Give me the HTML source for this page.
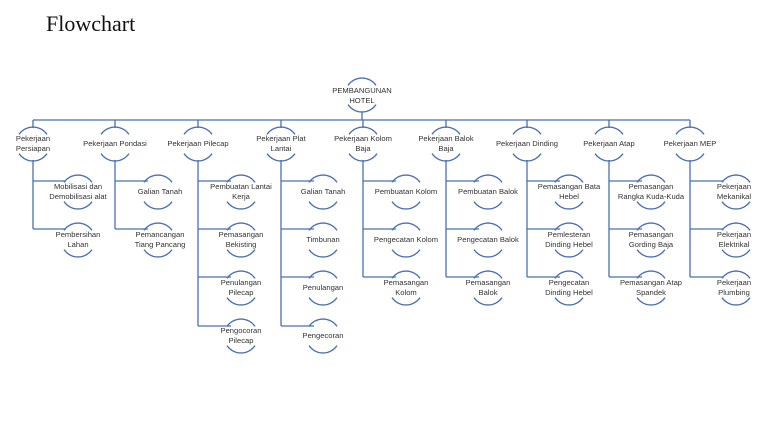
<!DOCTYPE html>
<html><head><meta charset="utf-8"><style>
html,body{margin:0;padding:0;background:#fff;}
svg{display:block;}
text{font-family:"Liberation Sans",sans-serif;font-size:7.6px;fill:#333;text-anchor:middle;}
.t{font-family:"Liberation Serif",serif;font-size:22px;fill:#111;text-anchor:start;}
.l{stroke:#4a6fb5;stroke-width:1.3;fill:none;}
</style></head><body>
<svg width="768" height="433" viewBox="0 0 768 433" xmlns="http://www.w3.org/2000/svg">
<defs>
<g id="a"><path class="l" d="M-14,-9.6 A17,17 0 0 1 14,-9.6"/><path class="l" d="M-14,9.6 A17,17 0 0 0 14,9.6"/></g>
</defs>
<text class="t" x="46" y="31">Flowchart</text>

<!-- connectors -->
<path class="l" d="M362,112 V120 M33,120 H690 M33,120 V128 M115,120 V128 M198,120 V128 M281,120 V128 M363,120 V128 M446,120 V128 M527,120 V128 M609,120 V128 M690,120 V128"/>
<path class="l" d="M33,160 V229 M33,181 H66 M33,229 H66"/>
<path class="l" d="M115,160 V229 M115,181 H148 M115,229 H148"/>
<path class="l" d="M198,160 V326 M198,181 H231 M198,229 H231 M198,277 H231 M198,326 H231"/>
<path class="l" d="M281,160 V326 M281,181 H314 M281,229 H314 M281,277 H314 M281,326 H314"/>
<path class="l" d="M363,160 V277 M363,181 H396 M363,229 H396 M363,277 H396"/>
<path class="l" d="M446,160 V277 M446,181 H479 M446,229 H479 M446,277 H479"/>
<path class="l" d="M527,160 V277 M527,181 H560 M527,229 H560 M527,277 H560"/>
<path class="l" d="M609,160 V277 M609,181 H642 M609,229 H642 M609,277 H642"/>
<path class="l" d="M690,160 V277 M690,181 H723 M690,229 H723 M690,277 H723"/>

<!-- root -->
<use href="#a" x="362" y="95"/>
<text x="362" y="93">PEMBANGUNAN</text><text x="362" y="103">HOTEL</text>

<!-- level 1 -->
<use href="#a" x="33" y="144"/><text x="33" y="141">Pekerjaan</text><text x="33" y="151">Persiapan</text>
<use href="#a" x="115" y="144"/><text x="115" y="146">Pekerjaan Pondasi</text>
<use href="#a" x="198" y="144"/><text x="198" y="146">Pekerjaan Pilecap</text>
<use href="#a" x="281" y="144"/><text x="281" y="141">Pekerjaan Plat</text><text x="281" y="151">Lantai</text>
<use href="#a" x="363" y="144"/><text x="363" y="141">Pekerjaan Kolom</text><text x="363" y="151">Baja</text>
<use href="#a" x="446" y="144"/><text x="446" y="141">Pekerjaan Balok</text><text x="446" y="151">Baja</text>
<use href="#a" x="527" y="144"/><text x="527" y="146">Pekerjaan Dinding</text>
<use href="#a" x="609" y="144"/><text x="609" y="146">Pekerjaan Atap</text>
<use href="#a" x="690" y="144"/><text x="690" y="146">Pekerjaan MEP</text>

<!-- col 0 -->
<use href="#a" x="78" y="192"/><text x="78" y="189">Mobilisasi dan</text><text x="78" y="199">Demobilisasi alat</text>
<use href="#a" x="78" y="240"/><text x="78" y="237">Pembersihan</text><text x="78" y="247">Lahan</text>
<!-- col 1 -->
<use href="#a" x="158" y="192"/><text x="160" y="194">Galian Tanah</text>
<use href="#a" x="158" y="240"/><text x="160" y="237">Pemancangan</text><text x="160" y="247">Tiang Pancang</text>
<!-- col 2 -->
<use href="#a" x="241" y="192"/><text x="241" y="189">Pembuatan Lantai</text><text x="241" y="199">Kerja</text>
<use href="#a" x="241" y="240"/><text x="241" y="237">Pemasangan</text><text x="241" y="247">Bekisting</text>
<use href="#a" x="241" y="288"/><text x="241" y="285">Penulangan</text><text x="241" y="295">Pilecap</text>
<use href="#a" x="241" y="336"/><text x="241" y="333">Pengocoran</text><text x="241" y="343">Pilecap</text>
<!-- col 3 -->
<use href="#a" x="323" y="192"/><text x="323" y="194">Galian Tanah</text>
<use href="#a" x="323" y="240"/><text x="323" y="242">Timbunan</text>
<use href="#a" x="323" y="288"/><text x="323" y="290">Penulangan</text>
<use href="#a" x="323" y="336"/><text x="323" y="338">Pengecoran</text>
<!-- col 4 -->
<use href="#a" x="406" y="192"/><text x="406" y="194">Pembuatan Kolom</text>
<use href="#a" x="406" y="240"/><text x="406" y="242">Pengecatan Kolom</text>
<use href="#a" x="406" y="288"/><text x="406" y="285">Pemasangan</text><text x="406" y="295">Kolom</text>
<!-- col 5 -->
<use href="#a" x="488" y="192"/><text x="488" y="194">Pembuatan Balok</text>
<use href="#a" x="488" y="240"/><text x="488" y="242">Pengecatan Balok</text>
<use href="#a" x="488" y="288"/><text x="488" y="285">Pemasangan</text><text x="488" y="295">Balok</text>
<!-- col 6 -->
<use href="#a" x="569" y="192"/><text x="569" y="189">Pemasangan Bata</text><text x="569" y="199">Hebel</text>
<use href="#a" x="569" y="240"/><text x="569" y="237">Pemlesteran</text><text x="569" y="247">Dinding Hebel</text>
<use href="#a" x="569" y="288"/><text x="569" y="285">Pengecatan</text><text x="569" y="295">Dinding Hebel</text>
<!-- col 7 -->
<use href="#a" x="651" y="192"/><text x="651" y="189">Pemasangan</text><text x="651" y="199">Rangka Kuda-Kuda</text>
<use href="#a" x="651" y="240"/><text x="651" y="237">Pemasangan</text><text x="651" y="247">Gording Baja</text>
<use href="#a" x="651" y="288"/><text x="651" y="285">Pemasangan Atap</text><text x="651" y="295">Spandek</text>
<!-- col 8 -->
<use href="#a" x="736" y="192"/><text x="734" y="189">Pekerjaan</text><text x="734" y="199">Mekanikal</text>
<use href="#a" x="736" y="240"/><text x="734" y="237">Pekerjaan</text><text x="734" y="247">Elektrikal</text>
<use href="#a" x="736" y="288"/><text x="734" y="285">Pekerjaan</text><text x="734" y="295">Plumbing</text>
</svg>
</body></html>
